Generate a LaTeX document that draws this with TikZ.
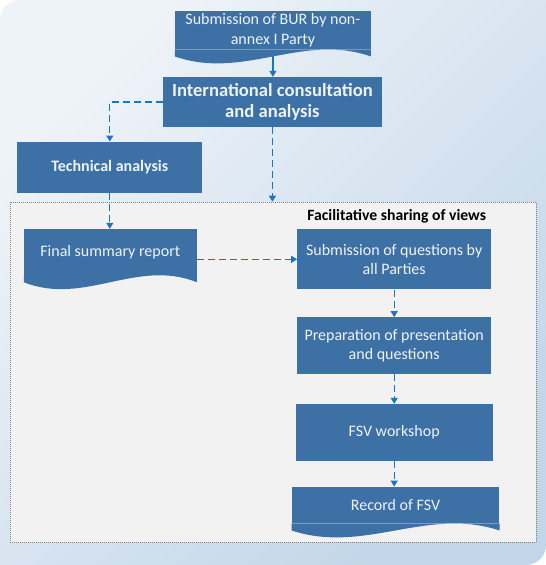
\documentclass[tikz,border=0pt]{standalone}
\usepackage{fontspec}
\setmainfont{Carlito}
\usetikzlibrary{arrows.meta}
\usetikzlibrary{calc}
\usetikzlibrary{positioning}
\definecolor{boxblue}{RGB}{61,112,165}
\definecolor{boxtext}{RGB}{238,243,249}
\definecolor{linkblue}{RGB}{28,116,196}
\definecolor{bgtop}{RGB}{238,243,248}
\definecolor{bgmid}{RGB}{203,220,237}
\definecolor{bgbot}{RGB}{194,214,233}
\definecolor{areafill}{RGB}{242,242,242}
\tikzset{box/.style = {fill = boxblue, text = boxtext, align = center, inner sep = 0,
    font = \fontsize{16}{19.5}\selectfont}}
\tikzset{docbox/.style = {box, append after command = {\pgfextra{
    \fill [boxblue] (\tikzlastnode.south west) -- ++(0, -7pt)
      .. controls ($(\tikzlastnode.south west)!0.35!(\tikzlastnode.south east) + (0, -31pt)$)
      and ($(\tikzlastnode.south west)!0.65!(\tikzlastnode.south east) + (0, 17pt)$)
      .. ($(\tikzlastnode.south east) + (0, -7pt)$) -- (\tikzlastnode.south east) -- cycle;}}}}
\tikzset{flow/.style = {draw = linkblue, line width = 1.2pt, -{Triangle[length = 6pt, width = 7pt]}}}
\tikzset{flowdash/.style = {flow, dash pattern = on 7pt off 4pt}}

\begin{document}
\begin{tikzpicture}[x = 1pt, y = -1pt]
  \useasboundingbox (0, 0) rectangle (546, 565);
  \shade [top color = bgtop, middle color = bgmid, bottom color = bgbot, shading angle = 45]
    (0, 565) -- (0, 20) arc [start angle = 180, end angle = 90, radius = 20pt]
    -- (546, 0) -- (546, 545) arc [start angle = 0, end angle = -90, radius = 20pt] -- cycle;

  \node [fill = areafill, draw = gray, line width = 0.6pt, dash pattern = on 1pt off 1pt,
    minimum width = 526pt, minimum height = 340pt] (fsvarea) at (273, 372) {};
  \node [font = \fontsize{15.7}{18}\selectfont\bfseries] (fsvtitle) at (396.7, 216.7) {Facilitative sharing of views};

  \node [docbox, minimum width = 195.7pt, minimum height = 38.5pt] (bur) at (272.9, 30)
    {Submission of BUR by non-\\annex I Party};
  \node [box, minimum width = 219.3pt, minimum height = 50pt,
    font = \fontsize{18.6}{21.5}\selectfont\bfseries] (ica) at (272.4, 102)
    {International consultation\\and analysis};
  \node [box, minimum width = 185pt, minimum height = 51pt, font = \fontsize{16}{18}\selectfont\bfseries]
    (tech) at (109.8, 167.2) {Technical analysis};
  \node [docbox, minimum width = 172.7pt, minimum height = 46pt] (fsr) at (110.3, 252) {Final summary report};

  \node [box, minimum width = 193.7pt, minimum height = 60pt] (questions) at (394.2, 259.3)
    {Submission of questions by\\all Parties};
  \node [box, minimum width = 193.7pt, minimum height = 56.7pt] (prep) at (394.2, 345.7)
    {Preparation of presentation\\and questions};
  \node [box, minimum width = 197pt, minimum height = 57pt] (workshop) at (394.2, 432.5) {FSV workshop};
  \node [docbox, minimum width = 207.6pt, minimum height = 36.5pt] (record) at (395.5, 505) {Record of FSV};

  \draw [flow, shorten <= 7pt] (bur.south) -- (bur.south |- ica.north);
  \draw [flowdash] (ica.west) -| (tech.north);
  \draw [flowdash] (ica.south) -- (ica.south |- fsvarea.north);
  \draw [flowdash] (tech.south) -- (tech.south |- fsr.north);
  \draw [flowdash] (questions.west -| fsr.east) -- (questions.west);
  \draw [flowdash] (questions.south) -- (prep.north);
  \draw [flowdash] (prep.south) -- (workshop.north);
  \draw [flowdash] (workshop.south) -- (workshop.south |- record.north);
\end{tikzpicture}
\end{document}
